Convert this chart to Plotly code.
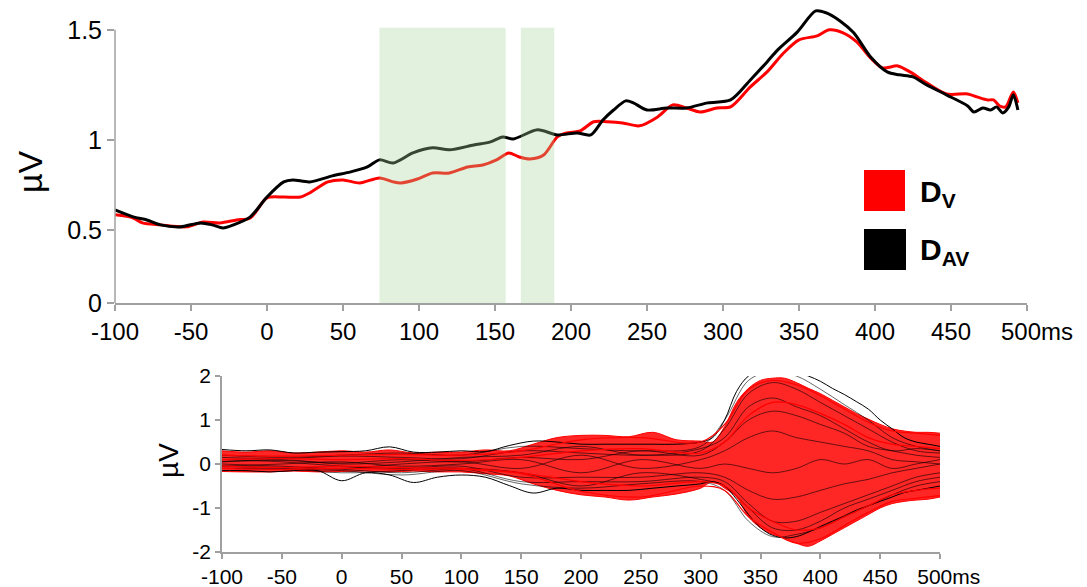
import plotly.graph_objects as go

# ---------------- Top panel: global amplitude (µV) ----------------
t_av = [-100,-88,-79,-70,-57,-44,-36,-29,-22,-11,0,11,17,28,43,55,66,74,83,96,109,120,136,147,155,162,
        178,191,204,213,221,228,236,241,250,263,276,290,305,318,329,336,349,361,368,377,386,397,408,416,
        425,434,447,461,465,471,476,480,484,488,491,494]
d_av = [0.511,0.473,0.456,0.429,0.418,0.440,0.429,0.412,0.429,0.473,0.582,0.665,0.676,0.665,0.698,0.720,
        0.747,0.786,0.769,0.824,0.852,0.841,0.868,0.885,0.912,0.901,0.951,0.923,0.934,0.923,1.005,1.060,
        1.110,1.099,1.060,1.071,1.071,1.099,1.115,1.225,1.324,1.390,1.489,1.604,1.593,1.549,1.484,1.352,
        1.269,1.253,1.242,1.198,1.143,1.082,1.049,1.071,1.060,1.077,1.044,1.077,1.143,1.060]

t_v = [-100,-88,-82,-70,-53,-42,-31,-20,-11,0,11,22,28,40,50,61,74,83,88,99,109,120,132,142,151,159,166,
       173,182,191,197,206,215,224,234,245,257,267,276,285,296,305,318,329,340,350,362,370,379,388,397,
       405,415,423,434,447,461,467,474,478,482,486,491,494]
d_v = [0.484,0.467,0.440,0.429,0.418,0.445,0.440,0.456,0.467,0.577,0.582,0.582,0.604,0.665,0.676,0.659,
       0.687,0.665,0.659,0.681,0.714,0.714,0.747,0.758,0.786,0.824,0.802,0.791,0.813,0.912,0.934,0.945,
       0.995,0.995,0.989,0.973,1.022,1.088,1.071,1.049,1.071,1.077,1.187,1.269,1.374,1.445,1.467,1.500,
       1.484,1.434,1.346,1.291,1.302,1.269,1.209,1.148,1.148,1.132,1.115,1.115,1.082,1.077,1.159,1.099]

# significant windows (ms)
sig_start = [74, 167]
sig_end = [157, 189]

x_ticks = [-100,-50,0,50,100,150,200,250,300,350,400,450,500]
x_text_top = ["-100","-50","0","50","100","150","200","250","300","350","400","450","\u00a0\u00a0\u00a0500ms"]
x_text_bot = ["-100","-50","0","50","100","150","200","250","300","350","400","450","\u00a0\u00a0\u00a0500ms"]
y_top_vals = [0, 0.401, 0.896, 1.5]
y_top_text = ["0", "0.5", "1", "1.5"]
y_bot_vals = [-2, -1, 0, 1, 2]
y_bot_text = ["-2", "-1", "0", "1", "2"]

# ---------------- Bottom panel: butterfly plot (all channels) ----------------
t_env = [-100,-80,-60,-40,-20,0,20,40,60,80,100,120,140,160,180,200,220,240,260,280,300,
         310,320,330,340,350,360,370,380,390,400,410,420,430,440,450,460,470,480,490,500]
red_upper = [0.3,0.27,0.3,0.25,0.27,0.3,0.27,0.32,0.25,0.27,0.27,0.32,0.3,0.45,0.6,0.65,0.65,0.62,0.72,0.55,0.52,
             0.5,0.85,1.4,1.72,1.9,1.95,1.95,1.85,1.72,1.6,1.45,1.3,1.15,1.02,0.9,0.8,0.75,0.72,0.72,0.7]
red_lower = [-0.17,-0.18,-0.18,-0.16,-0.18,-0.17,-0.16,-0.18,-0.16,-0.18,-0.18,-0.22,-0.27,-0.45,-0.6,-0.7,-0.75,-0.82,-0.75,-0.68,-0.55,
             -0.4,-0.55,-0.75,-1.2,-1.45,-1.6,-1.68,-1.8,-1.87,-1.75,-1.6,-1.45,-1.3,-1.15,-1.0,-0.9,-0.85,-0.82,-0.8,-0.75]
black_upper = [0.33,0.3,0.32,0.25,0.27,0.28,0.3,0.39,0.27,0.27,0.3,0.28,0.42,0.52,0.5,0.45,0.45,0.45,0.45,0.45,0.5,
               0.6,1.0,1.65,2.0,2.1,2.15,2.15,2.1,2.0,1.88,1.72,1.58,1.42,1.25,1.0,0.8,0.6,0.5,0.45,0.4]
black_lower = [-0.15,-0.15,-0.18,-0.15,-0.15,-0.38,-0.2,-0.25,-0.42,-0.3,-0.25,-0.3,-0.49,-0.66,-0.55,-0.6,-0.6,-0.6,-0.55,-0.5,-0.45,
               -0.4,-0.5,-0.8,-1.15,-1.45,-1.62,-1.68,-1.65,-1.55,-1.42,-1.3,-1.18,-1.05,-0.95,-0.85,-0.75,-0.65,-0.6,-0.55,-0.5]

t_ch = [-100,-50,0,50,100,150,200,250,300,320,340,360,380,400,420,440,460,480,500]
black_channels = [
    [0.15,0.12,0.18,0.15,0.12,0.3,0.25,0.2,0.3,0.8,1.6,1.85,1.7,1.4,1.1,0.8,0.5,0.3,0.25],
    [0.05,0.08,0.02,0.1,0.05,0.15,0.1,0.3,0.2,0.5,1.0,1.2,1.1,0.9,0.7,0.4,0.3,0.2,0.15],
    [0.0,-0.05,-0.1,0.0,0.05,-0.1,0.2,-0.1,0.1,0.3,0.6,0.75,0.6,0.5,0.4,0.3,0.1,0.05,0.0],
    [-0.05,0.0,0.05,-0.05,0.0,0.1,-0.2,0.1,-0.1,0.0,-0.1,-0.2,-0.1,0.1,0.0,0.1,-0.1,0.0,0.1],
    [0.1,0.05,-0.05,-0.1,-0.05,-0.3,-0.3,-0.3,-0.2,-0.3,-0.6,-0.8,-0.75,-0.6,-0.45,-0.35,-0.2,-0.1,0.0],
    [-0.1,-0.1,-0.2,-0.15,-0.1,-0.4,-0.4,-0.4,-0.3,-0.4,-0.9,-1.3,-1.3,-1.1,-0.9,-0.7,-0.5,-0.3,-0.2],
    [0.05,0.1,0.0,0.05,0.15,0.2,0.4,0.2,0.35,0.6,1.3,1.5,1.3,1.1,0.8,0.5,0.3,0.35,0.3],
    [-0.05,-0.08,-0.12,-0.2,-0.1,-0.2,-0.5,-0.2,-0.35,-0.5,-1.0,-1.45,-1.5,-1.3,-1.0,-0.8,-0.6,-0.4,-0.3],
    [0.2,0.15,0.2,0.25,0.2,0.4,0.35,0.3,0.4,1.0,1.9,2.1,2.0,1.7,1.35,1.0,0.6,0.4,0.3],
    [-0.1,-0.12,-0.15,-0.25,-0.15,-0.45,-0.55,-0.45,-0.4,-0.6,-1.3,-1.65,-1.6,-1.45,-1.2,-0.95,-0.7,-0.5,-0.4],
]
red_channels = [
    [0.2,0.18,0.2,0.22,0.2,0.3,0.55,0.6,0.5,0.9,1.7,1.9,1.8,1.55,1.25,0.95,0.75,0.7,0.65],
    [0.1,0.12,0.1,0.12,0.08,0.15,0.3,0.35,0.25,0.5,1.1,1.4,1.35,1.15,0.9,0.6,0.45,0.4,0.35],
    [-0.05,-0.08,-0.05,-0.08,-0.1,-0.2,-0.4,-0.5,-0.4,-0.5,-1.0,-1.3,-1.5,-1.45,-1.2,-0.95,-0.7,-0.6,-0.55],
    [-0.1,-0.12,-0.1,-0.12,-0.12,-0.22,-0.62,-0.75,-0.5,-0.6,-1.2,-1.55,-1.8,-1.7,-1.4,-1.1,-0.85,-0.78,-0.72],
]

FONT = "Liberation Sans, Arial, sans-serif"
W, H = 1087, 587

fig = go.Figure()

# top panel traces
fig.add_trace(go.Scatter(x=t_v, y=d_v, mode="lines", line=dict(color="#ff0000", width=3, shape="spline", smoothing=0.8),
                         xaxis="x", yaxis="y", showlegend=False, name="D_V"))
fig.add_trace(go.Scatter(x=t_av, y=d_av, mode="lines", line=dict(color="#000000", width=3, shape="spline", smoothing=0.8),
                         xaxis="x", yaxis="y", showlegend=False, name="D_AV"))

# bottom panel traces
fig.add_trace(go.Scatter(x=t_env, y=red_upper, mode="lines", line=dict(color="#ff0000", width=1, shape="spline"),
                         xaxis="x2", yaxis="y2", showlegend=False))
fig.add_trace(go.Scatter(x=t_env, y=red_lower, mode="lines", line=dict(color="#ff0000", width=1, shape="spline"),
                         fill="tonexty", fillcolor="rgba(255,0,0,0.85)", xaxis="x2", yaxis="y2", showlegend=False))
for arr in (black_upper, black_lower):
    fig.add_trace(go.Scatter(x=t_env, y=arr, mode="lines", line=dict(color="#000000", width=1, shape="spline"),
                             xaxis="x2", yaxis="y2", showlegend=False))
for ch in black_channels:
    fig.add_trace(go.Scatter(x=t_ch, y=ch, mode="lines", line=dict(color="rgba(0,0,0,0.75)", width=0.8, shape="spline"),
                             xaxis="x2", yaxis="y2", showlegend=False))
for ch in red_channels:
    fig.add_trace(go.Scatter(x=t_ch, y=ch, mode="lines", line=dict(color="#ff0000", width=1.2, shape="spline"),
                             xaxis="x2", yaxis="y2", showlegend=False))

shapes = []
for s, e in zip(sig_start, sig_end):
    shapes.append(dict(type="rect", xref="x", yref="y", x0=s, x1=e, y0=0, y1=1.511,
                       fillcolor="rgb(166,212,151)", opacity=0.33, line=dict(width=0), layer="above"))
# top y-axis line (ends at the 1.5 tick)
shapes.append(dict(type="line", xref="paper", yref="y", x0=115/W, x1=115/W, y0=0, y1=1.5,
                   line=dict(color="#a0a0a0", width=1.5)))
# legend squares
shapes.append(dict(type="rect", xref="paper", yref="paper", x0=864/W, x1=905/W, y0=(H-211)/H, y1=(H-170)/H,
                   fillcolor="#ff0000", line=dict(width=0)))
shapes.append(dict(type="rect", xref="paper", yref="paper", x0=864/W, x1=906/W, y0=(H-270)/H, y1=(H-229)/H,
                   fillcolor="#000000", line=dict(width=0)))

annotations = [
    dict(text="µV", xref="paper", yref="paper", x=30/W, y=(H-172)/H, xanchor="center", yanchor="middle",
         showarrow=False, textangle=-90, font=dict(family=FONT, size=34, color="black")),
    dict(text="µV", xref="paper", yref="paper", x=168/W, y=(H-461)/H, xanchor="center", yanchor="middle",
         showarrow=False, textangle=-90, font=dict(family=FONT, size=28, color="black")),
    dict(text="<b>D<sub>V</sub></b>", xref="paper", yref="paper", x=918/W, y=(H-193)/H, xanchor="left",
         yanchor="middle", showarrow=False, font=dict(family=FONT, size=30, color="black")),
    dict(text="<b>D<sub>AV</sub></b>", xref="paper", yref="paper", x=918/W, y=(H-251)/H, xanchor="left",
         yanchor="middle", showarrow=False, font=dict(family=FONT, size=30, color="black")),
]

def axis(**kw):
    base = dict(showgrid=False, zeroline=False, ticks="outside", tickcolor="#a0a0a0",
                linecolor="#a0a0a0", linewidth=1.5, tickwidth=1.5, automargin=False,
                tickmode="array", fixedrange=True)
    base.update(kw)
    return base

fig.update_layout(
    width=W, height=H, margin=dict(l=0, r=0, t=0, b=0, autoexpand=False),
    paper_bgcolor="white", plot_bgcolor="white", showlegend=False,
    xaxis=axis(domain=[115/W, 1027/W], range=[-100, 500], anchor="y", tickangle=0,
               tickvals=x_ticks, ticktext=x_text_top, showline=True, ticklen=6,
               tickfont=dict(family=FONT, size=24, color="black")),
    yaxis=axis(domain=[(H-303)/H, (H-8)/H], range=[0, 1.62], anchor="x",
               tickvals=y_top_vals, ticktext=y_top_text, showline=False, ticklen=7,
               tickfont=dict(family=FONT, size=25, color="black")),
    xaxis2=axis(domain=[222/W, 940/W], range=[-100, 500], anchor="y2", tickangle=0,
                tickvals=x_ticks, ticktext=x_text_bot, showline=True, ticklen=5,
                tickfont=dict(family=FONT, size=21, color="black")),
    yaxis2=axis(domain=[(H-552)/H, (H-376)/H], range=[-2, 2], anchor="x2",
                tickvals=y_bot_vals, ticktext=y_bot_text, showline=True, ticklen=5,
                tickfont=dict(family=FONT, size=21, color="black")),
    shapes=shapes, annotations=annotations,
)

fig.write_html("out.html")
